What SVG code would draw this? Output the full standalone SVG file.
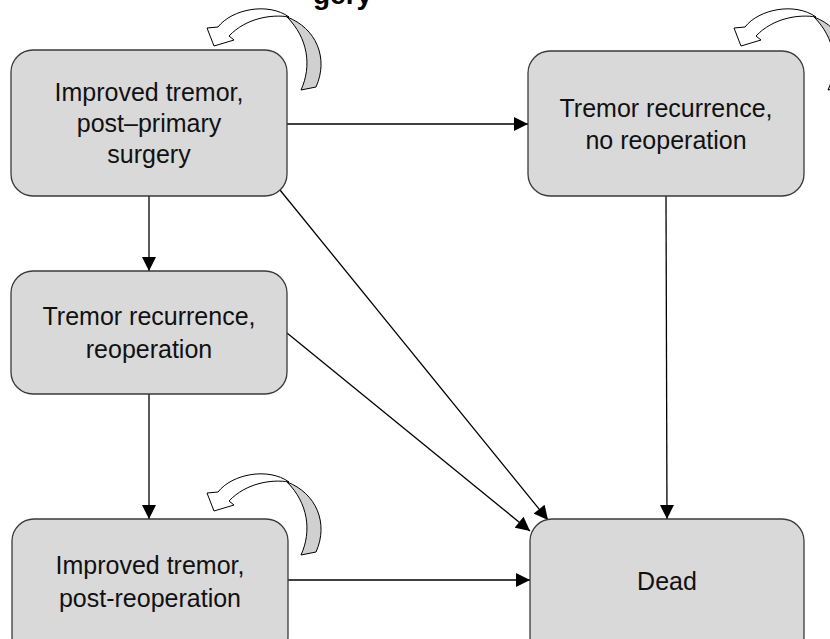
<svg xmlns="http://www.w3.org/2000/svg" width="830" height="639" viewBox="0 0 830 639">
<style>
.box{fill:#d9d9d9;stroke:#3a3a3a;stroke-width:1.3}
.lbl{font-family:"Liberation Sans",Arial,sans-serif;font-size:25px;fill:#111;text-anchor:middle}
.ttl{font-family:"Liberation Sans",Arial,sans-serif;font-size:28px;font-weight:bold;fill:#000}
.edge{stroke:#000;stroke-width:1.3;fill:none;marker-end:url(#ah)}
.band{fill:#d0d0d0;stroke:#000;stroke-width:1}
.head{fill:#fff;stroke:#000;stroke-width:1}
</style>
<defs>
<marker id="ah" viewBox="0 0 10 10" refX="10" refY="5" markerWidth="15" markerHeight="14" markerUnits="userSpaceOnUse" orient="auto">
<path d="M0,0 L10,5 L0,10 z" fill="#000"/>
</marker>
<g id="loop">
<path class="band" d="M287,17 C316,28 329,58 316,87 L301,90 C312,66 308,38 287,17 Z"/>
<path class="head" d="M218,27 C232,9 268,2 289,17 C272,14 246,18 229,36 L234,40 L214,46 L207,28 Z"/>
</g>
</defs>
<rect width="830" height="639" fill="#fff"/>
<text class="ttl" x="313" y="4">gery</text>

<g id="connectors">
<line class="edge" x1="287" y1="124" x2="528" y2="124"/>
<line class="edge" x1="149" y1="196" x2="149" y2="271"/>
<line class="edge" x1="280" y1="190" x2="548" y2="520"/>
<line class="edge" x1="287" y1="333" x2="530" y2="531"/>
<line class="edge" x1="149" y1="394" x2="149" y2="519"/>
<line class="edge" x1="288" y1="580" x2="530" y2="580"/>
<line class="edge" x1="666" y1="196" x2="667" y2="519"/>
</g>

<g id="loop1"><use href="#loop"/></g>
<g id="loop2"><use href="#loop" transform="translate(527,0)"/></g>
<g id="loop3"><use href="#loop" transform="translate(0,465)"/></g>

<g id="node-improved-primary">
<rect class="box" x="11" y="50" width="276" height="146" rx="22"/>
<text class="lbl" x="149" y="101">Improved tremor,</text>
<text class="lbl" x="149" y="132">post–primary</text>
<text class="lbl" x="149" y="163">surgery</text>
</g>
<g id="node-recurrence-no-reop">
<rect class="box" x="528" y="51" width="276" height="145" rx="22"/>
<text class="lbl" x="666" y="117">Tremor recurrence,</text>
<text class="lbl" x="666" y="149">no reoperation</text>
</g>
<g id="node-recurrence-reop">
<rect class="box" x="11" y="271" width="276" height="123" rx="22"/>
<text class="lbl" x="149" y="325">Tremor recurrence,</text>
<text class="lbl" x="149" y="358">reoperation</text>
</g>
<g id="node-improved-reop">
<rect class="box" x="12" y="519" width="276" height="140" rx="22"/>
<text class="lbl" x="150" y="574">Improved tremor,</text>
<text class="lbl" x="150" y="607">post-reoperation</text>
</g>
<g id="node-dead">
<rect class="box" x="530" y="519" width="274" height="140" rx="22"/>
<text class="lbl" x="667" y="590">Dead</text>
</g>
</svg>
